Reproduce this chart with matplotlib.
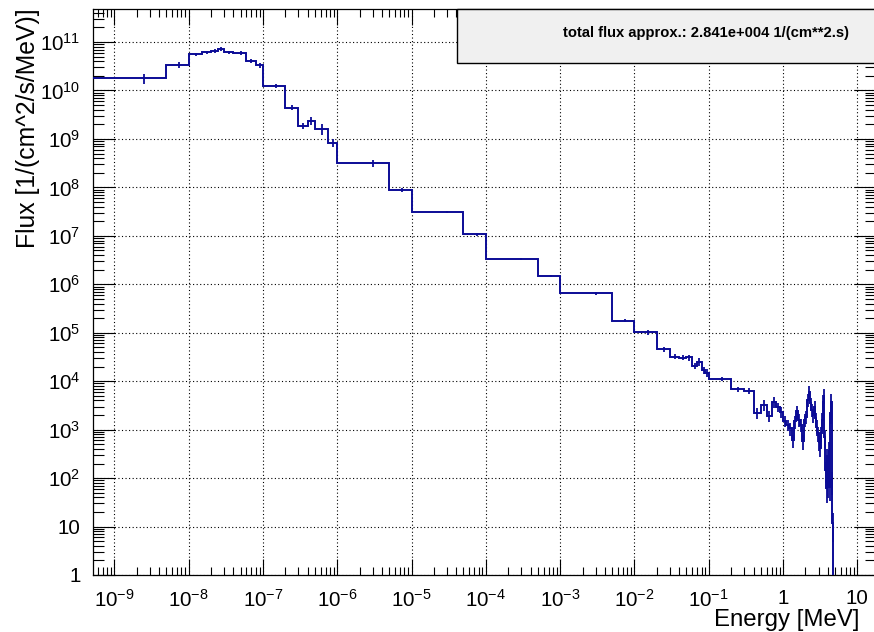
import numpy as np
import matplotlib
matplotlib.use("Agg")
import matplotlib.pyplot as plt
from matplotlib.patches import Rectangle
from matplotlib.ticker import FixedLocator, FixedFormatter, LogLocator, NullFormatter

plt.rcParams['font.family'] = ['Liberation Sans', 'DejaVu Sans']
plt.rcParams['mathtext.fontset'] = 'custom'
plt.rcParams['mathtext.rm'] = 'Liberation Sans'
plt.rcParams['mathtext.it'] = 'Liberation Sans:italic'
plt.rcParams['mathtext.bf'] = 'Liberation Sans:bold'

# Energy bin edges [MeV]
bin_edges = [
    1e-11, 5e-9, 1e-8, 1.5e-8, 2e-8, 2.5e-8, 3e-8, 4e-8, 6e-8, 8e-8,
    1e-7, 2e-7, 3e-7, 4e-7, 5e-7, 7.5e-7, 1e-6, 5e-6, 1e-5, 5e-5,
    1e-4, 5e-4, 1e-3, 5e-3, 1e-2, 2e-2, 3e-2, 4e-2, 5e-2, 6e-2,
    7e-2, 8e-2, 9e-2, 0.1, 0.2, 0.3, 0.4, 0.5, 0.6, 0.7,
    0.8, 0.9, 1.0, 1.1, 1.2, 1.3, 1.4, 1.5, 1.6, 1.7,
    1.8, 1.9, 2.0, 2.1, 2.2, 2.3, 2.4, 2.5, 2.6, 2.7,
    2.8, 2.9, 3.0, 3.1, 3.2, 3.3, 3.4, 3.5, 3.6, 3.7,
    3.8, 3.9, 4.0, 4.1, 4.2, 4.3, 4.4, 4.5, 4.6, 4.7,
    4.8, 4.9, 5.0,
]

# Flux per bin [1/(cm^2 s MeV)]
flux = [
    1.79e10, 3.41e10, 5.59e10, 6.14e10, 6.53e10, 7.29e10, 6.14e10, 6.0e10, 4.12e10,
    3.36e10, 1.24e10, 4.42e9, 1.88e9, 2.38e9, 1.63e9, 8.37e8, 3.14e8, 8.97e7, 3.11e7,
    1.08e7, 3.28e6, 1.48e6, 6.46e5, 1.77e5, 1.02e5, 4.55e4, 3.2e4, 3.08e4, 3.1e4,
    2.06e4, 2.53e4, 1.70e4, 1.50e4, 1.11e4, 6.75e3, 6.28e3, 2.24e3, 3.2e3, 1.9e3,
    3.7e3, 2.9e3, 2.3e3, 1.5e3, 1.25e3, 1.07e3, 6.1e2, 1.5e3, 2.4e3, 1.6e3,
    1.25e3, 5.8e2, 1.6e3, 1.85e3, 4.1e3, 6.0e3, 3.5e3, 2.55e3, 2.0e3, 3.0e3,
    1.7e3, 1.15e3, 8.4e2, 5.6e2, 4.1e2, 8.5e2, 1.6e3, 3.8e3, 5.2e3, 7.1e2,
    1.47e2, 62, 2.8e2, 78, 3.8e2, 66, 2.2e3, 3.8e3, 91, 12,
    0, 0, 0,
]

# Relative statistical uncertainty per bin
rel_err = [
    0.25, 0.13, 0.08, 0.08, 0.08, 0.10, 0.08, 0.08, 0.10,
    0.12, 0.10, 0.12, 0.15, 0.20, 0.27, 0.20, 0.15, 0.10, 0.05,
    0.08, 0.05, 0.06, 0.05, 0.08, 0.10, 0.10, 0.12, 0.12, 0.14,
    0.15, 0.18, 0.18, 0.18, 0.08, 0.12, 0.15, 0.25, 0.25, 0.25,
    0.25, 0.22, 0.25, 0.25, 0.25, 0.30, 0.30, 0.30, 0.30, 0.30,
    0.30, 0.35, 0.30, 0.30, 0.30, 0.30, 0.30, 0.30, 0.30, 0.30,
    0.30, 0.35, 0.35, 0.35, 0.35, 0.35, 0.35, 0.35, 0.35, 0.40,
    0.45, 0.50, 0.45, 0.50, 0.45, 0.50, 0.40, 0.40, 0.50, 0.60,
    0, 0, 0,
]

x_major = [1e-9, 1e-8, 1e-7, 1e-6, 1e-5, 1e-4, 1e-3, 1e-2, 1e-1, 1, 10]
x_labels = [r'$10^{-9}$', r'$10^{-8}$', r'$10^{-7}$', r'$10^{-6}$', r'$10^{-5}$',
            r'$10^{-4}$', r'$10^{-3}$', r'$10^{-2}$', r'$10^{-1}$', '1', '10']
y_major = [1, 10, 1e2, 1e3, 1e4, 1e5, 1e6, 1e7, 1e8, 1e9, 1e10, 1e11]
y_labels = ['1', '10', r'$10^{2}$', r'$10^{3}$', r'$10^{4}$', r'$10^{5}$', r'$10^{6}$',
            r'$10^{7}$', r'$10^{8}$', r'$10^{9}$', r'$10^{10}$', r'$10^{11}$']

W, H = 874, 632
fig = plt.figure(figsize=(W / 100, H / 100), dpi=100)
ax = fig.add_axes([93 / W, 1 - 575 / H, (876 - 93) / W, (575 - 9.3) / H])

line_color = '#0b0b96'
edges = np.array(bin_edges)
vals = np.array(flux, dtype=float)
errs = vals * np.array(rel_err)
centers = 0.5 * (edges[:-1] + edges[1:])

ax.set_xscale('log')
ax.set_yscale('log')
ax.stairs(vals, edges, baseline=None, color=line_color, linewidth=1.4, zorder=3)
mask = vals > 0
ax.errorbar(centers[mask], vals[mask], yerr=errs[mask], fmt='none',
            ecolor=line_color, elinewidth=1.3, capsize=0, zorder=3)

ax.set_xlim(5.17e-10, 17.8)
ax.set_ylim(1, 4.74e11)

ax.xaxis.set_major_locator(FixedLocator(x_major))
ax.xaxis.set_major_formatter(FixedFormatter(x_labels))
ax.xaxis.set_minor_locator(LogLocator(base=10, subs=np.arange(2, 10), numticks=200))
ax.xaxis.set_minor_formatter(NullFormatter())
ax.yaxis.set_major_locator(FixedLocator(y_major))
ax.yaxis.set_major_formatter(FixedFormatter(y_labels))
ax.yaxis.set_minor_locator(LogLocator(base=10, subs=np.arange(2, 10), numticks=200))
ax.yaxis.set_minor_formatter(NullFormatter())

ax.tick_params(which='both', direction='in', top=True, right=True, width=0.8, color='black')
ax.tick_params(axis='x', which='major', length=11.5, pad=10, labelsize=14.8)
ax.tick_params(axis='x', which='minor', length=5.5)
ax.tick_params(axis='y', which='major', length=16, pad=9, labelsize=14.8)
ax.tick_params(axis='y', which='minor', length=8)

ax.grid(True, which='major', color='black', linestyle=(0, (1, 2.2)), linewidth=0.8)
ax.set_axisbelow(True)
for s in ax.spines.values():
    s.set_linewidth(0.9)

fig.text(28 / W, 1 - 8 / H, 'Flux [1/(cm^2/s/MeV)]', rotation=90,
         ha='center', va='top', fontsize=17.8)
fig.text(859 / W, 1 - 620 / H, 'Energy [MeV]', ha='right', va='center', fontsize=17.3)

box = Rectangle((457 / W, 1 - 63 / H), (885 - 457) / W, (63 - 9.3) / H,
                transform=fig.transFigure, facecolor='#f0f0f0', edgecolor='black',
                linewidth=1.0, zorder=5)
fig.add_artist(box)
fig.text(706 / W, 1 - 33 / H, 'total flux approx.: 2.841e+004 1/(cm**2.s)',
         ha='center', va='center', fontsize=10.6, fontweight='bold', zorder=6)

fig.savefig('out.png', dpi=100)
